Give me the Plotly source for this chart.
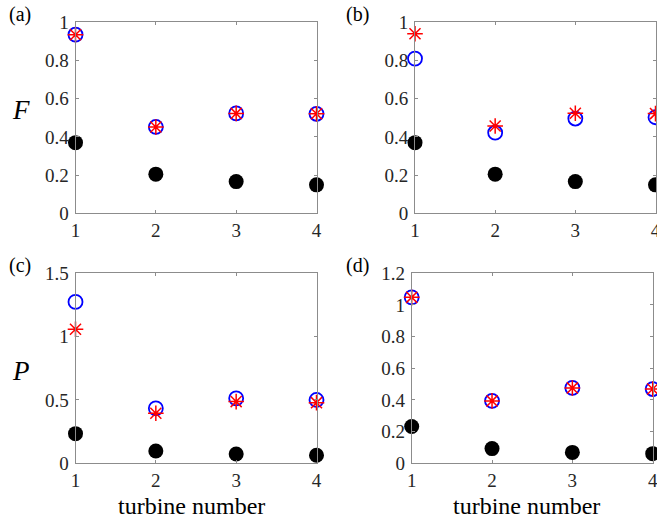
import plotly.graph_objects as go

turbines = [1, 2, 3, 4]
tick_x = ["1", "2", "3", "4"]

# panel (a): F
a_black = [0.37, 0.205, 0.166, 0.149]
a_blue = [0.935, 0.452, 0.523, 0.521]
a_red = [0.935, 0.452, 0.523, 0.521]
# panel (b): F
b_black = [0.37, 0.205, 0.166, 0.149]
b_blue = [0.81, 0.422, 0.496, 0.503]
b_red = [0.94, 0.457, 0.524, 0.522]
# panel (c): P
c_black = [0.234, 0.097, 0.074, 0.063]
c_blue = [1.274, 0.434, 0.513, 0.50]
c_red = [1.058, 0.395, 0.487, 0.479]
# panel (d): P
d_black = [0.232, 0.093, 0.069, 0.061]
d_blue = [1.048, 0.394, 0.476, 0.469]
d_red = [1.048, 0.394, 0.476, 0.469]

yticks_ab = [0, 0.2, 0.4, 0.6, 0.8, 1]
yticks_c = [0, 0.5, 1, 1.5]
yticks_d = [0, 0.2, 0.4, 0.6, 0.8, 1, 1.2]

W, H = 657, 520
SERIF = "Liberation Serif"

fig = go.Figure()

panels = [
    ("", a_black, a_blue, a_red),
    ("2", b_black, b_blue, b_red),
    ("3", c_black, c_blue, c_red),
    ("4", d_black, d_blue, d_red),
]
for suf, blk, blu, red in panels:
    xa, ya = "x" + suf, "y" + suf
    fig.add_trace(go.Scatter(x=turbines, y=blk, mode="markers", xaxis=xa, yaxis=ya,
                             cliponaxis=False, showlegend=False,
                             marker=dict(symbol="circle", size=15, color="black",
                                         line=dict(width=0))))
    fig.add_trace(go.Scatter(x=turbines, y=blu, mode="markers", xaxis=xa, yaxis=ya,
                             cliponaxis=False, showlegend=False,
                             marker=dict(symbol="circle-open", size=14, color="blue",
                                         line=dict(width=1.8, color="blue"))))
    fig.add_trace(go.Scatter(x=turbines, y=red, mode="markers", xaxis=xa, yaxis=ya,
                             cliponaxis=False, showlegend=False,
                             marker=dict(symbol="asterisk-open", size=13, color="red",
                                         line=dict(width=1.5, color="red"))))


def px_x(a, b):
    return [a / W, b / W]


def px_y(top, bottom):
    return [1 - bottom / H, 1 - top / H]


axis_common = dict(
    showline=True, linecolor="#8c8c8c", linewidth=1, mirror="ticks",
    ticks="inside", ticklen=3, tickcolor="#8c8c8c", tickwidth=1,
    showgrid=False, zeroline=False, automargin=False,
    ticklabeloverflow="allow",
    tickfont=dict(family=SERIF, size=19, color="#262626"),
)

xdoms = [px_x(75.5, 316.5), px_x(415, 655.5), px_x(75.5, 316.5), px_x(411.7, 652.7)]
ydoms = [px_y(22.3, 213.3), px_y(22.3, 213.3), px_y(273.3, 463.3), px_y(273.3, 463.3)]
yranges = [[0, 1], [0, 1], [0, 1.5], [0, 1.2]]
ytvs = [yticks_ab, yticks_ab, yticks_c, yticks_d]

layout = dict(width=W, height=H, margin=dict(l=0, r=0, t=0, b=0, autoexpand=False),
              paper_bgcolor="white", plot_bgcolor="white", showlegend=False)
for i in range(4):
    suf = "" if i == 0 else str(i + 1)
    layout["xaxis" + suf] = dict(axis_common, domain=xdoms[i], range=[1, 4],
                                 tickvals=turbines, ticktext=tick_x,
                                 anchor="y" + suf, ticklabelstandoff=0)
    layout["yaxis" + suf] = dict(axis_common, domain=ydoms[i], range=yranges[i],
                                 tickvals=ytvs[i], anchor="x" + suf,
                                 ticklabelstandoff=2)
fig.update_layout(**layout)


def ann(text, xp, yp, size, color="black"):
    fig.add_annotation(text=text, x=xp / W, y=1 - yp / H, xref="paper", yref="paper",
                       showarrow=False, xanchor="center", yanchor="middle",
                       font=dict(family=SERIF, size=size, color=color))


ann("(a)", 20, 14.5, 20)
ann("(b)", 357, 14.5, 20)
ann("(c)", 20, 265, 20)
ann("(d)", 357, 265, 20)
ann("<i>F</i>", 21, 110, 27)
ann("<i>P</i>", 21, 371, 27)
ann("turbine number", 191, 506, 24)
ann("turbine number", 526, 506, 24)

fig.write_html("out.html", config={"displayModeBar": False},
               post_script="document.body.style.margin='0';")
